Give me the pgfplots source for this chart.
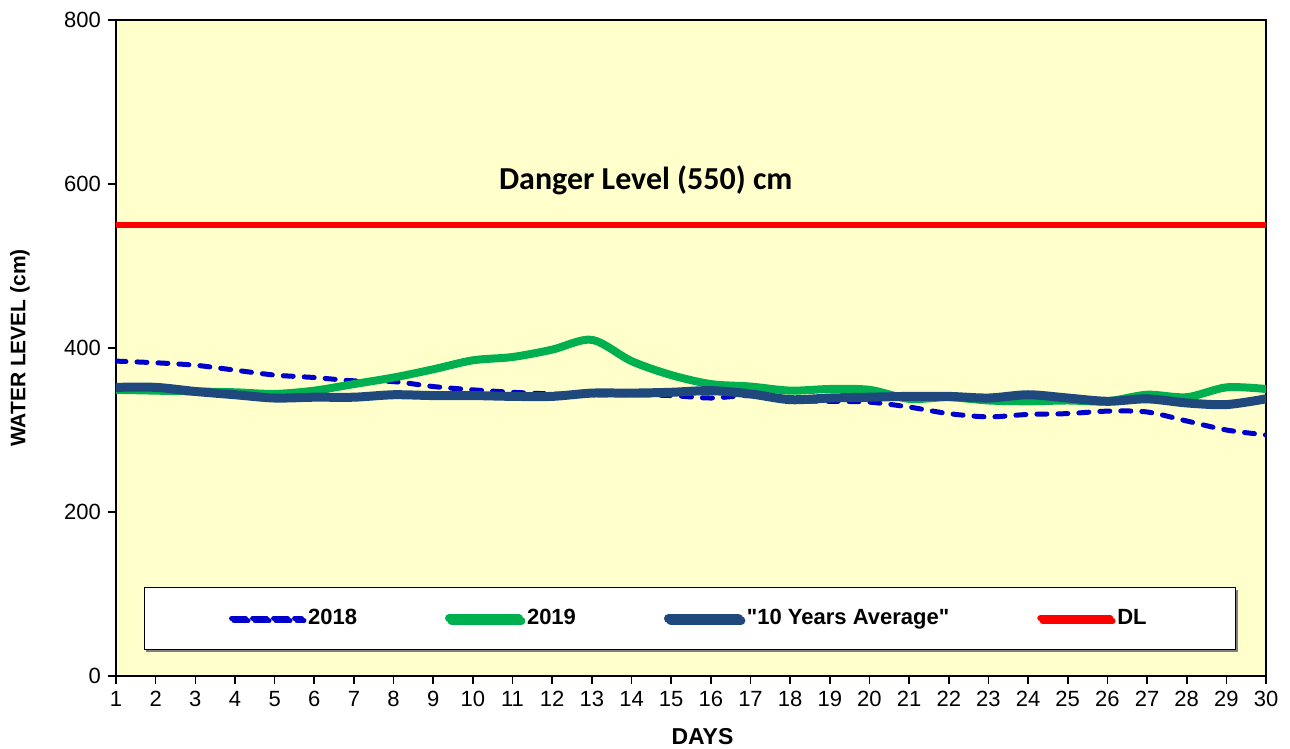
\documentclass[border=0pt]{standalone}
\usepackage{pgfplots}
\pgfplotsset{compat=1.18}
\usepackage{fontspec}
\setmainfont{Liberation Sans}[Ligatures=TeXOff]
\newfontfamily\calibri{Carlito}
\usetikzlibrary{shadows}
\definecolor{bgyellow}{HTML}{FFFFCC}
\definecolor{c2018}{HTML}{0000CC}
\definecolor{c2019}{HTML}{00B050}
\definecolor{cavg}{HTML}{1F497D}
\begin{document}
\begin{tikzpicture}
\begin{axis}[
  at={(0,0)}, anchor=south west,
  scale only axis,
  width=575pt, height=328pt,
  xmin=1, xmax=30, ymin=0, ymax=800,
  xtick={1,...,30}, ytick={0,200,400,600,800},
  tick pos=left,
  axis background/.style={fill=bgyellow},
  axis line style={line width=1pt},
  tick style={black, line width=0.8pt},
  tick align=outside, major tick length=4pt,
  tick label style={font=\fontsize{11}{13}\selectfont},
  /pgf/number format/assume math mode=true,
  xlabel={\textbf{DAYS}},
  ylabel={\textbf{WATER LEVEL (cm)}},
  xlabel style={font=\fontsize{11.5}{13}\selectfont, at={(axis description cs:0.51,-0.093)}, anchor=center},
  ylabel style={font=\fontsize{10.5}{12}\selectfont, at={(axis description cs:-0.0835,0.5)}, anchor=center},
  legend columns=4,
  legend style={at={(axis description cs:0.499,0.0877)}, anchor=center,
    fill=white, draw=black, line width=0.5pt,
    inner xsep=42.5pt, inner ysep=9pt,
    font=\bfseries\fontsize{11}{13}\selectfont,
    drop shadow={shadow xshift=1.2pt, shadow yshift=-1.2pt, fill=gray, opacity=1},
    /tikz/every even column/.append style={column sep=42pt}},
  legend cell align=left,
  legend image code/.code={\path (0pt,0pt) -- (35pt,0pt);\draw[#1] (2pt,0pt) -- (33pt,0pt);},
]
\addplot[c2018, line width=2.5pt, line cap=round, dash pattern=on 5pt off 5.5pt, smooth] coordinates {
(1,384)(2,382)(3,379)(4,373)(5,367)(6,364)(7,360)(8,359)(9,353)(10,349)
(11,346)(12,344)(13,343)(14,343)(15,342)(16,339)(17,342)(18,336)(19,335)(20,334)
(21,328)(22,320)(23,316)(24,319)(25,320)(26,323)(27,322)(28,311)(29,300)(30,294)};
\addlegendentry{2018}
\addplot[c2019, line width=4pt, line cap=round, smooth] coordinates {
(1,349)(2,348)(3,347)(4,346)(5,344)(6,348)(7,356)(8,364)(9,374)(10,385)
(11,389)(12,398)(13,410)(14,384)(15,367)(16,356)(17,353)(18,348)(19,350)(20,349)
(21,338)(22,340)(23,336)(24,335)(25,336)(26,335)(27,343)(28,340)(29,352)(30,350)};
\addlegendentry{2019}
\addplot[cavg, line width=4.5pt, line cap=round, smooth] coordinates {
(1,352)(2,352)(3,347)(4,343)(5,339)(6,340)(7,340)(8,343)(9,342)(10,342)
(11,341)(12,341)(13,345)(14,345)(15,346)(16,348)(17,344)(18,337)(19,339)(20,340)
(21,341)(22,341)(23,339)(24,343)(25,339)(26,335)(27,338)(28,333)(29,331)(30,338)};
\addlegendentry{"10 Years Average"}
\addplot[red, line width=3pt, line cap=round] coordinates {(1,550)(30,550)};
\addlegendentry{DL}
\node[font=\calibri\bfseries\fontsize{16}{19}\selectfont, anchor=center] at (axis cs:14.36,604) {Danger Level (550) cm};
\end{axis}
\pgfresetboundingbox
\path (-58pt,-36.5pt) rectangle (587pt,338pt);
\end{tikzpicture}
\end{document}
